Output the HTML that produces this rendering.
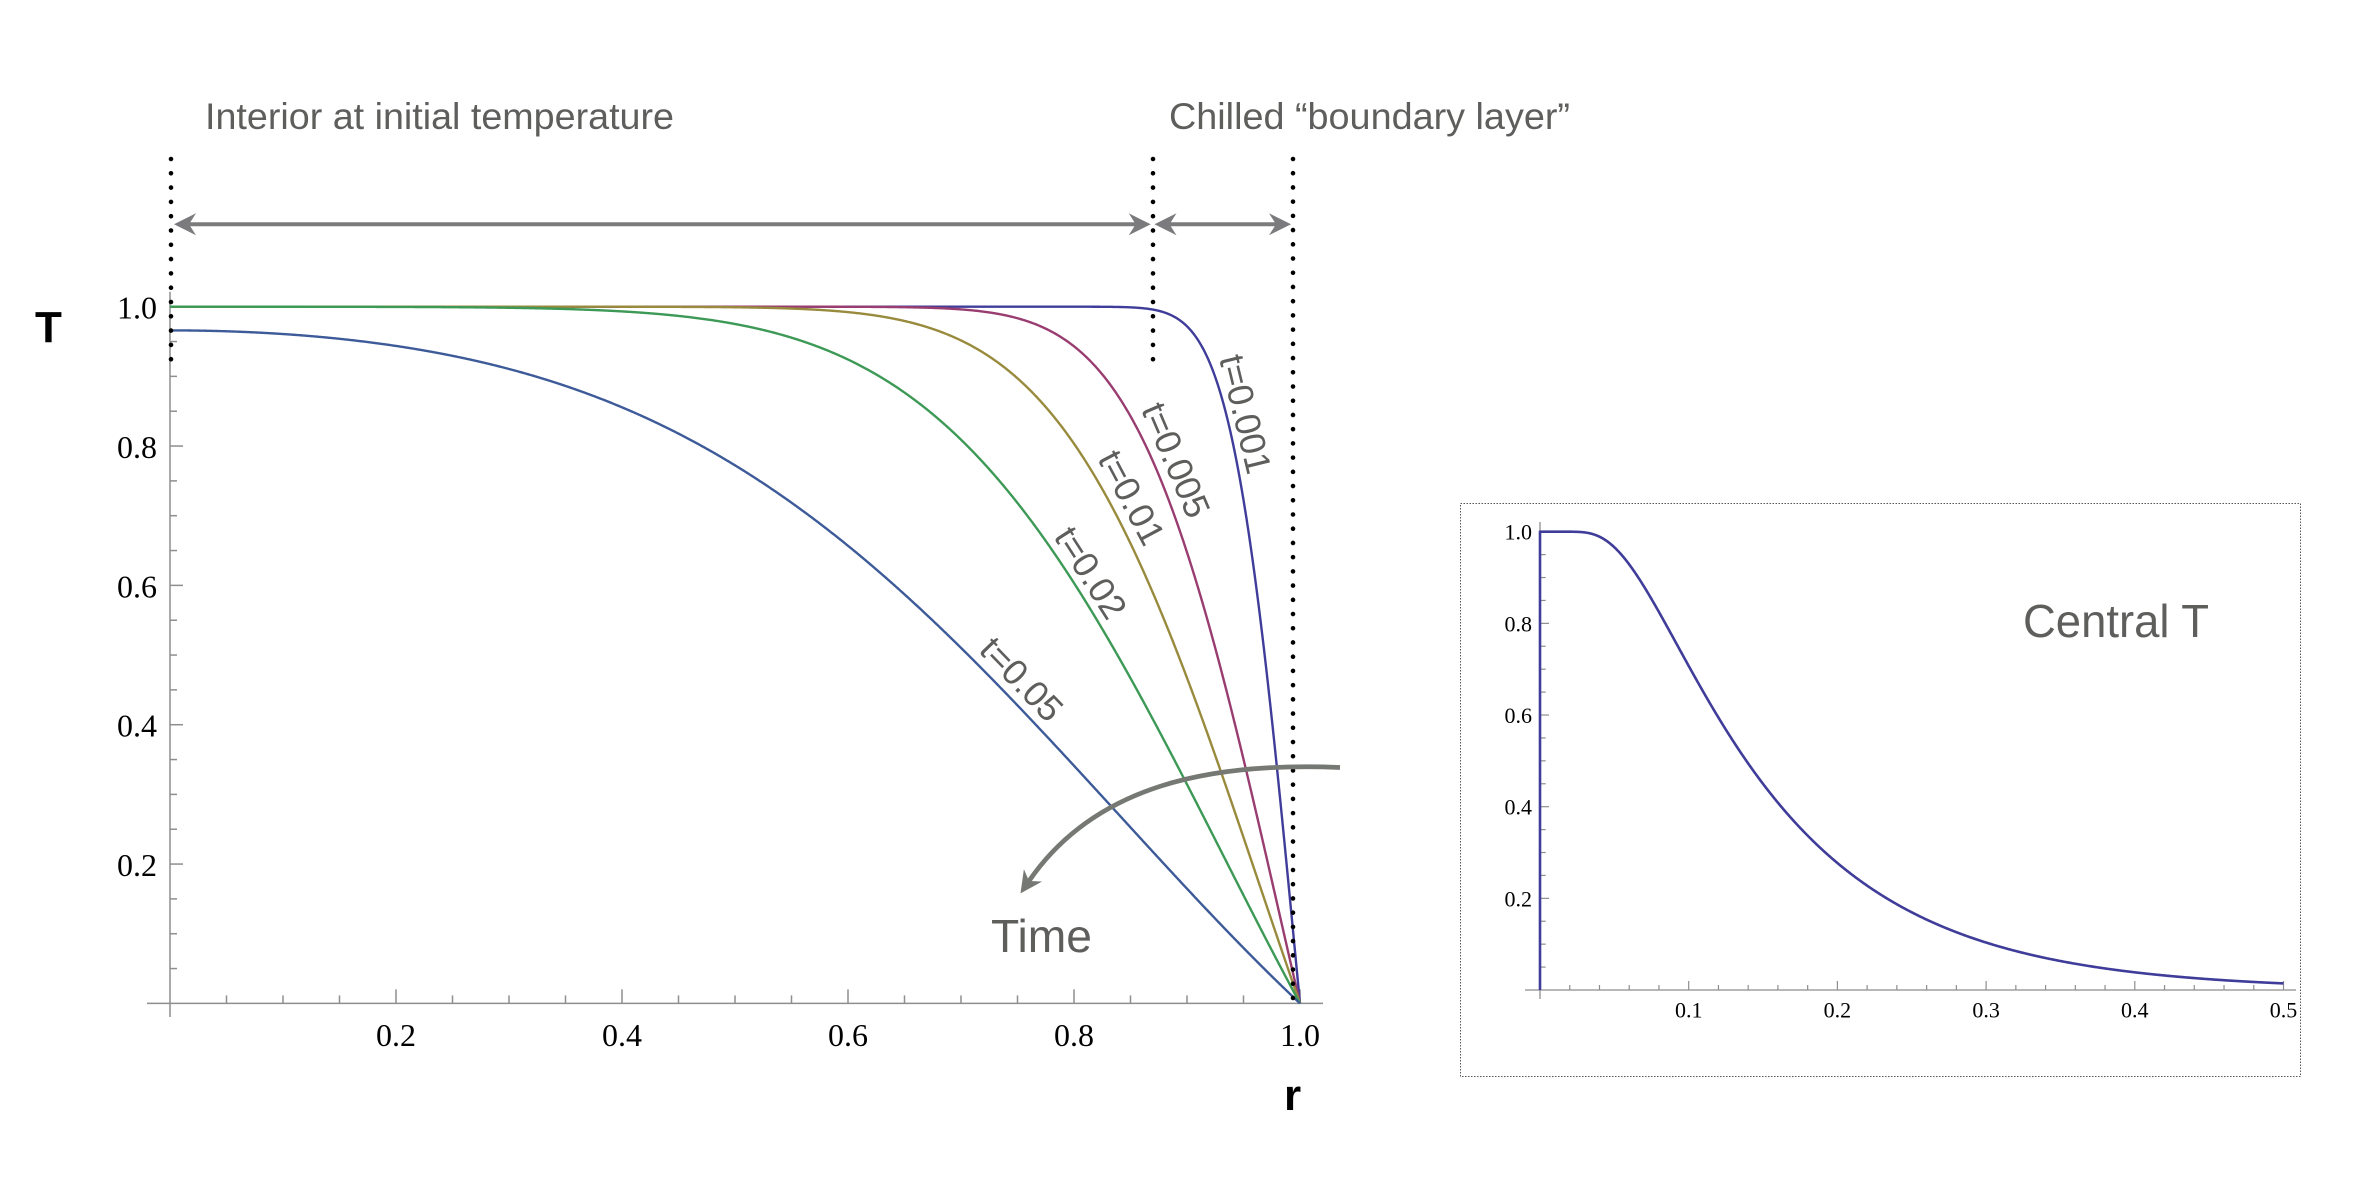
<!DOCTYPE html>
<html>
<head>
<meta charset="utf-8">
<style>
html,body{margin:0;padding:0;background:#fff;}
svg{display:block;}
.sans{font-family:"Liberation Sans",Arial,Helvetica,sans-serif;}
.serif{font-family:"Liberation Serif","Times New Roman",serif;}
</style>
</head>
<body>
<svg id="s" xmlns="http://www.w3.org/2000/svg" width="2372" height="1194" viewBox="0 0 2372 1194">
<rect width="2372" height="1194" fill="#fff"/>
<g id="axes" stroke="#8e8e8e" stroke-width="1.5" fill="none"></g>
<g id="ticklabels" class="serif" fill="#000"></g>
<g id="curves" fill="none" stroke-width="2.4" stroke-linejoin="round"></g>
<g id="labels" class="sans" fill="#5e5f5c" font-size="36"></g>

<!-- annotation texts -->
<text class="sans" x="205" y="129" font-size="37" fill="#5e5f5c" textLength="469" lengthAdjust="spacingAndGlyphs">Interior at initial temperature</text>
<text class="sans" x="1169" y="129" font-size="37" fill="#5e5f5c" textLength="401" lengthAdjust="spacingAndGlyphs">Chilled “boundary layer”</text>
<text class="sans" x="35" y="342" font-size="44" font-weight="bold" fill="#000">T</text>
<text class="sans" x="1284" y="1110" font-size="44" font-weight="bold" fill="#000">r</text>
<text class="sans" x="991" y="952" font-size="46" fill="#5e5f5c" textLength="101" lengthAdjust="spacingAndGlyphs">Time</text>
<text class="sans" x="2023" y="637" font-size="46" fill="#5e5f5c" textLength="186" lengthAdjust="spacingAndGlyphs">Central T</text>

<!-- dotted lines -->
<g stroke="#000" stroke-width="4.6" stroke-linecap="round" fill="none">
<line x1="171" y1="159" x2="171" y2="373.5" stroke-dasharray="0 14.3"/>
<line x1="1153" y1="159" x2="1153" y2="373.5" stroke-dasharray="0 14.3"/>
<line x1="1293" y1="159" x2="1293" y2="998" stroke-dasharray="0 14.22"/>
</g>

<!-- horizontal double arrows -->
<g stroke="#7b7a7d" stroke-width="4" fill="none">
<line x1="188" y1="224.3" x2="1137" y2="224.3"/>
<line x1="1168" y1="224.3" x2="1277" y2="224.3"/>
</g>
<g fill="#7b7a7d">
<polygon points="174,224.3 196,213.3 189,224.3 196,235.3"/>
<polygon points="1150.7,224.3 1128.7,213.3 1135.7,224.3 1128.7,235.3"/>
<polygon points="1154.5,224.3 1176.5,213.3 1169.5,224.3 1176.5,235.3"/>
<polygon points="1291,224.3 1269,213.3 1276,224.3 1269,235.3"/>
</g>

<!-- curved time arrow -->
<path d="M1340,767.5 C1210,762 1095,785 1029,881" stroke="#767873" stroke-width="4.7" fill="none"/>
<polygon points="1020.5,893.4 1042.1,881.5 1029,881 1023.9,869.1" fill="#767873"/>

<!-- right panel frame -->
<rect x="1460.5" y="503.5" width="840" height="573" fill="none" stroke="#555" stroke-width="1" stroke-dasharray="1.5 1.5"/>
</svg>

<script>
(function(){
var NS="http://www.w3.org/2000/svg";
function el(tag,attrs,parent,txt){var e=document.createElementNS(NS,tag);for(var k in attrs)e.setAttribute(k,attrs[k]);if(txt!==undefined)e.textContent=txt;parent.appendChild(e);return e;}
var axes=document.getElementById('axes'),tl=document.getElementById('ticklabels'),cv=document.getElementById('curves'),lb=document.getElementById('labels');
var PI=Math.PI;

/* ---------- main plot ---------- */
var X0=170,XS=1130,Y0=1003.4,YS=696.7;
function mx(r){return X0+XS*r;} function my(T){return Y0-YS*T;}
el('line',{x1:147,y1:Y0,x2:1323,y2:Y0},axes);
el('line',{x1:X0,y1:291.7,x2:X0,y2:1017},axes);
for(var i=1;i<=20;i++){var r=i*0.05,x=mx(r),maj=(i%4==0);
  el('line',{x1:x,y1:Y0,x2:x,y2:Y0-(maj?14:8)},axes);
  if(maj) el('text',{x:x,y:1046,'font-size':32,'text-anchor':'middle'},tl,(r).toFixed(1));
}
for(var i=1;i<=20;i++){var T=i*0.05,y=my(T),maj=(i%4==0);
  el('line',{x1:X0,y1:y,x2:X0+(maj?13:7),y2:y},axes);
  if(maj) el('text',{x:157,y:y+12,'font-size':32,'text-anchor':'end'},tl,(T).toFixed(1));
}
function Tr(r,t){var N=200,s=0,n;
  if(r<1e-7){for(n=1;n<=N;n++){s+=(n%2?1:-1)*Math.exp(-n*n*PI*PI*t);}return 2*s;}
  for(n=1;n<=N;n++){var e=Math.exp(-n*n*PI*PI*t);if(e<1e-17)break;s+=(n%2?1:-1)/n*Math.sin(n*PI*r)*e;}
  return 2*s/(PI*r);}
var series=[
 {t:0.001,c:'#3f3d99',lab:'t=0.001',C:[1245.5,414]},
 {t:0.005,c:'#993d71',lab:'t=0.005',C:[1176,460]},
 {t:0.01,c:'#998b3d',lab:'t=0.01',C:[1131.7,497.5]},
 {t:0.02,c:'#3d9956',lab:'t=0.02',C:[1090.8,572.5]},
 {t:0.05,c:'#3d5a99',lab:'t=0.05',C:[1021.7,679]}
];
series.forEach(function(s){
  var pts=[],M=1200;
  for(var k=0;k<=M;k++){var r=k/M;var T=(k==M)?0:Tr(r,s.t);if(T>1)T=1;pts.push([mx(r),my(T)]);}
  var d='M'+pts.map(function(p){return p[0].toFixed(2)+','+p[1].toFixed(2);}).join(' L');
  el('path',{d:d,stroke:s.c},cv);
  // label: find nearest point, use tangent
  var best=0,bd=1e18;
  for(var k=0;k<pts.length;k++){var dx=pts[k][0]-s.C[0],dy=pts[k][1]-s.C[1],dd=dx*dx+dy*dy;if(dd<bd){bd=dd;best=k;}}
  var a=pts[Math.max(0,best-8)],b=pts[Math.min(pts.length-1,best+8)];
  var ang=Math.atan2(b[1]-a[1],b[0]-a[0])*180/PI;
  el('text',{x:0,y:0,'text-anchor':'middle','dominant-baseline':'central',transform:'translate('+s.C[0]+','+s.C[1]+') rotate('+ang.toFixed(2)+')'},lb,s.lab);
});

/* ---------- right panel ---------- */
var RX0=1540,RXS=1487,RY0=990,RYS=458.3;
function rx(t){return RX0+RXS*t;} function ry(T){return RY0-RYS*T;}
el('line',{x1:1525,y1:RY0,x2:2296,y2:RY0,'stroke-width':1.3},axes);
el('line',{x1:RX0,y1:522,x2:RX0,y2:999,'stroke-width':1.3},axes);
for(var i=1;i<=25;i++){var t=i*0.02,x=rx(t),maj=(i%5==0);
  el('line',{x1:x,y1:RY0,x2:x,y2:RY0-(maj?9:5),'stroke-width':1.2},axes);
  if(maj) el('text',{x:x,y:1017.3,'font-size':22,'text-anchor':'middle'},tl,(t).toFixed(1));
}
for(var i=1;i<=20;i++){var T=i*0.05,y=ry(T),maj=(i%4==0);
  el('line',{x1:RX0,y1:y,x2:RX0+(maj?9:5.7),y2:y,'stroke-width':1.2},axes);
  if(maj) el('text',{x:1532,y:y+8,'font-size':22,'text-anchor':'end'},tl,(T).toFixed(1));
}
function Tc(t){if(t<=0)return 1;var s=0;for(var n=1;n<=400;n++){var e=Math.exp(-n*n*PI*PI*t);if(e<1e-17)break;s+=(n%2?1:-1)*e;}var v=2*s;return v>1?1:v;}
var p=[[rx(0),ry(0)],[rx(0),ry(1)]];
for(var k=1;k<=1000;k++){var t=0.5*k/1000;p.push([rx(t),ry(Tc(t))]);}
el('path',{d:'M'+p.map(function(q){return q[0].toFixed(2)+','+q[1].toFixed(2);}).join(' L'),stroke:'#3f3d99','stroke-width':2.6},cv);
})();
</script>
</body>
</html>
